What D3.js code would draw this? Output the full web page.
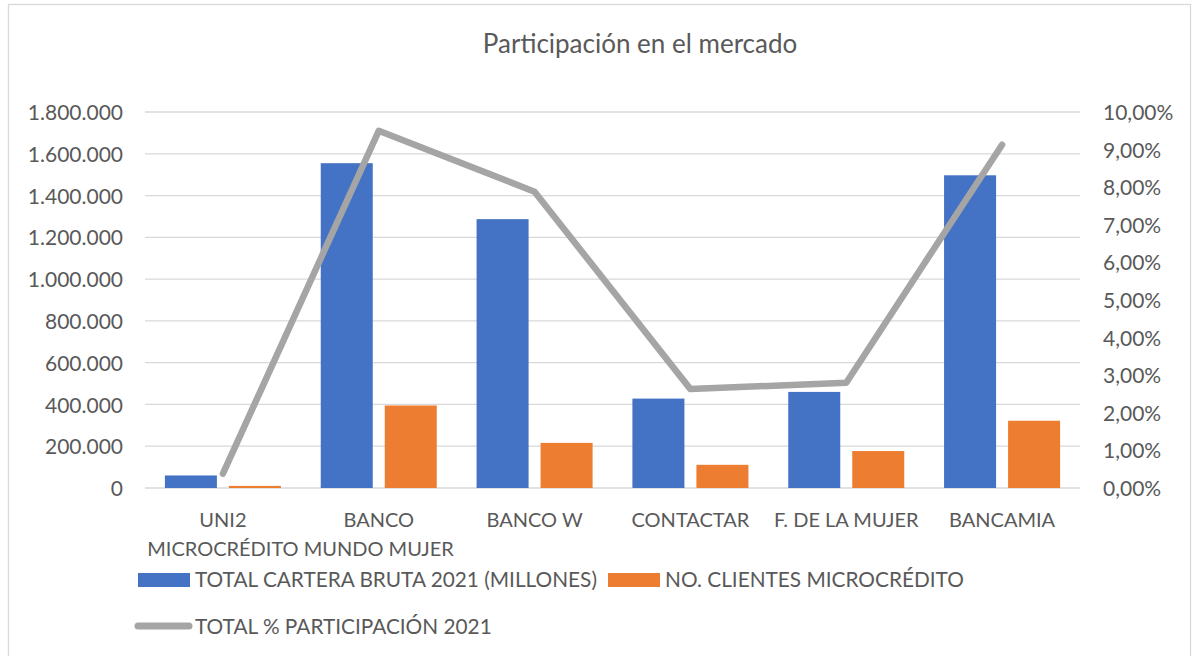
<!DOCTYPE html>
<html>
<head>
<meta charset="utf-8">
<script src="https://cdn.jsdelivr.net/npm/d3@7"></script>
<style>
  html, body { margin: 0; padding: 0; background: #fff; }
  svg { display: block; font-family: Lato, "Open Sans", sans-serif; }
</style>
</head>
<body>
<svg id="chart" width="1195" height="656"></svg>
<script>
const categories = [["UNI2", "MICROCRÉDITO"], ["BANCO", "MUNDO MUJER"], ["BANCO W"], ["CONTACTAR"], ["F. DE LA MUJER"], ["BANCAMIA"]];
const cartera = [60000, 1555000, 1287000, 428000, 460000, 1497000];
const clientes = [10000, 395000, 216000, 111000, 177000, 322000];
const participacion = [0.0038, 0.0950, 0.0788, 0.0263, 0.0280, 0.0913];
const leftTicks = [0, 200000, 400000, 600000, 800000, 1000000, 1200000, 1400000, 1600000, 1800000];
const rightTicks = [0, 0.01, 0.02, 0.03, 0.04, 0.05, 0.06, 0.07, 0.08, 0.09, 0.10];
const seriesNames = ["TOTAL CARTERA BRUTA 2021 (MILLONES)", "NO. CLIENTES MICROCRÉDITO", "TOTAL % PARTICIPACIÓN 2021"];
const title = "Participación en el mercado";

const colors = { blue: "#4472c4", orange: "#ed7d31", gray: "#a5a5a5", text: "#595959", grid: "#d9d9d9" };
const loc = d3.formatLocale({ decimal: ",", thousands: ".", grouping: [3], currency: ["$", ""] });
const fmtLeft = loc.format(",.0f");
const fmtRight = loc.format(".2%");

const svg = d3.select("#chart");
const plot = { left: 145, right: 1080, top: 112, bottom: 488 };

// chart border
svg.append("rect").attr("x", 8.5).attr("y", 4.5).attr("width", 1182).attr("height", 700)
  .attr("fill", "#fff").attr("stroke", colors.grid).attr("stroke-width", 1.3);

const idx = d3.range(categories.length);
const x = d3.scaleBand().domain(idx).range([plot.left, plot.right]).paddingInner(0).paddingOuter(0);
const xi = d3.scaleBand().domain([0, 1]).range([0, x.bandwidth()]).paddingInner(0.1875).paddingOuter(0.311);
const yL = d3.scaleLinear().domain([0, 1800000]).range([plot.bottom, plot.top]);
const yR = d3.scaleLinear().domain([0, 0.10]).range([plot.bottom, plot.top]);

// gridlines
svg.append("g").selectAll("line").data(leftTicks).join("line")
  .attr("x1", plot.left).attr("x2", plot.right)
  .attr("y1", d => yL(d)).attr("y2", d => yL(d))
  .attr("stroke", colors.grid).attr("stroke-width", 1.3);

// left axis
const axL = svg.append("g").attr("transform", `translate(${plot.left - 22},0)`)
  .call(d3.axisLeft(yL).tickValues(leftTicks).tickFormat(fmtLeft).tickSize(0).tickPadding(0));
axL.select(".domain").remove();
axL.selectAll("text").attr("fill", colors.text).attr("font-size", 21).attr("font-family", "Lato").attr("dy", "0.36em");

// right axis
const axR = svg.append("g").attr("transform", `translate(${plot.right + 23},0)`)
  .call(d3.axisRight(yR).tickValues(rightTicks).tickFormat(fmtRight).tickSize(0).tickPadding(0));
axR.select(".domain").remove();
axR.selectAll("text").attr("fill", colors.text).attr("font-size", 21).attr("font-family", "Lato").attr("dy", "0.36em");

// bars
const bars = svg.append("g");
bars.selectAll("rect.c").data(cartera).join("rect").attr("class", "c")
  .attr("x", (d, i) => x(i) + xi(0)).attr("width", xi.bandwidth())
  .attr("y", d => yL(d)).attr("height", d => yL(0) - yL(d)).attr("fill", colors.blue);
bars.selectAll("rect.n").data(clientes).join("rect").attr("class", "n")
  .attr("x", (d, i) => x(i) + xi(1)).attr("width", xi.bandwidth())
  .attr("y", d => yL(d)).attr("height", d => yL(0) - yL(d)).attr("fill", colors.orange);

// line
const line = d3.line().x((d, i) => x(i) + x.bandwidth() / 2).y(d => yR(d));
svg.append("path").datum(participacion).attr("d", line)
  .attr("fill", "none").attr("stroke", colors.gray).attr("stroke-width", 6.5)
  .attr("stroke-linejoin", "round").attr("stroke-linecap", "round");

// category labels
const cat = svg.append("g");
categories.forEach((lines, i) => {
  const t = cat.append("text").attr("x", x(i) + x.bandwidth() / 2).attr("y", 527)
    .attr("text-anchor", "middle").attr("fill", colors.text).attr("font-size", 20).attr("font-family", "Lato");
  lines.forEach((l, j) => t.append("tspan").attr("x", x(i) + x.bandwidth() / 2).attr("dy", j === 0 ? 0 : 29).text(l));
});

// title
svg.append("text").attr("x", 640).attr("y", 53).attr("text-anchor", "middle")
  .attr("fill", colors.text).attr("font-size", 26).attr("font-family", "Lato").text(title);

// legend
const lg = svg.append("g").attr("font-family", "Lato").attr("font-size", 20.8).attr("fill", colors.text);
lg.append("rect").attr("x", 138).attr("y", 573).attr("width", 52).attr("height", 14).attr("fill", colors.blue);
lg.append("text").attr("x", 195).attr("y", 587).text(seriesNames[0]);
lg.append("rect").attr("x", 608).attr("y", 573).attr("width", 52).attr("height", 14).attr("fill", colors.orange);
lg.append("text").attr("x", 665).attr("y", 587).text(seriesNames[1]);
lg.append("line").attr("x1", 138).attr("x2", 189).attr("y1", 626).attr("y2", 626)
  .attr("stroke", colors.gray).attr("stroke-width", 7).attr("stroke-linecap", "round");
lg.append("text").attr("x", 195).attr("y", 634).text(seriesNames[2]);
</script>
</body>
</html>
